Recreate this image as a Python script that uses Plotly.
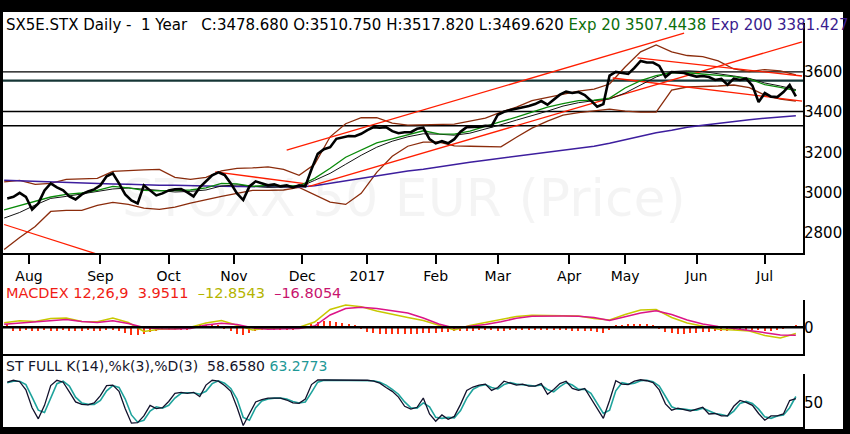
import pandas as pd
import plotly.graph_objects as go

# ---- session calendar: weekdays minus the exchange holidays in the window
HOLIDAYS = ["2016-12-26", "2017-04-14", "2017-04-17"]
sessions = pd.bdate_range("2016-07-20", "2017-07-19")
sessions = sessions[~sessions.isin(pd.to_datetime(HOLIDAYS))]
LAST_BAR = "2017-07-17"
bars = sessions[sessions <= LAST_BAR]
days_2 = bars[::-1][::2][::-1]   # every second session, ending on the last bar
days_5 = bars[::-1][::5][::-1]   # weekly samples for the smooth studies

MONTH_TICKS = ["2016-08-01", "2016-09-01", "2016-10-03", "2016-11-01", "2016-12-01",
               "2017-01-02", "2017-02-01", "2017-03-01", "2017-04-03", "2017-05-01",
               "2017-06-01", "2017-07-03"]
MONTH_LABELS = ["Aug", "Sep", "Oct", "Nov", "Dec", "2017", "Feb", "Mar", "Apr", "May", "Jun", "Jul"]
PRICE_TICKS = [2800, 3000, 3200, 3400, 3600]

# ---- price (close, every 2nd session)
close = [
    2970, 2978, 2998, 2978, 2915, 2945, 3010, 3045, 3025, 3010,
    2980, 2965, 2990, 3005, 3015, 3035, 3080, 3095, 3045, 2990,
    2960, 2945, 3035, 3010, 2985, 2995, 3010, 3015, 3017, 3000,
    2980, 3025, 3055, 3085, 3100, 3087, 3045, 2995, 2962, 3030,
    3055, 3045, 3035, 3040, 3030, 3035, 3025, 3035, 3030, 3115,
    3192, 3215, 3225, 3267, 3275, 3281, 3280, 3292, 3310, 3325,
    3322, 3325, 3305, 3295, 3300, 3300, 3317, 3322, 3265, 3245,
    3255, 3245, 3265, 3302, 3325, 3325, 3327, 3332, 3330, 3387,
    3402, 3410, 3417, 3422, 3430, 3440, 3455, 3437, 3462, 3487,
    3502, 3495, 3500, 3485, 3457, 3427, 3440, 3582, 3600, 3595,
    3590, 3620, 3655, 3647, 3647, 3630, 3575, 3600, 3597, 3595,
    3585, 3577, 3580, 3575, 3560, 3565, 3537, 3567, 3560, 3567,
    3532, 3450, 3495, 3477, 3475, 3500, 3535, 3478.68,
]

# ---- overlays (weekly samples)
ema20 = [
    2913, 2935, 2955, 2977, 2990, 2997, 3010, 3030, 3022, 3010,
    3008, 3010, 3012, 3022, 3045, 3042, 3030, 3035, 3035, 3032,
    3070, 3120, 3175, 3212, 3247, 3267, 3287, 3307, 3292, 3290,
    3305, 3330, 3352, 3375, 3400, 3425, 3442, 3457, 3460, 3470,
    3520, 3557, 3582, 3596, 3596, 3590, 3585, 3577, 3565, 3537,
    3523, 3507.44,
]
sma20 = [
    2872, 2900, 2937, 2970, 2980, 2992, 3005, 3017, 3022, 3017,
    3010, 3002, 3005, 3012, 3032, 3037, 3030, 3025, 3027, 3027,
    3060, 3095, 3140, 3185, 3225, 3255, 3277, 3292, 3290, 3285,
    3295, 3315, 3337, 3360, 3382, 3405, 3430, 3447, 3457, 3465,
    3495, 3537, 3575, 3602, 3606, 3602, 3592, 3580, 3568, 3545,
    3530, 3512,
]
ema200 = [
    3060, 3057, 3055, 3052, 3050, 3047, 3045, 3042, 3040, 3037,
    3035, 3035, 3035, 3032, 3030, 3030, 3028, 3027, 3027, 3027,
    3033, 3045, 3057, 3070, 3082, 3095, 3107, 3115, 3127, 3140,
    3150, 3160, 3170, 3180, 3190, 3200, 3210, 3220, 3230, 3245,
    3262, 3280, 3297, 3310, 3325, 3335, 3345, 3355, 3362, 3370,
    3375, 3381.43,
]
bb_upper = [
    3052, 3060, 3040, 3045, 3065, 3067, 3070, 3105, 3110, 3112,
    3115, 3075, 3065, 3075, 3107, 3120, 3122, 3127, 3115, 3085,
    3140, 3277, 3342, 3372, 3372, 3345, 3335, 3337, 3337, 3340,
    3355, 3370, 3400, 3425, 3457, 3472, 3490, 3505, 3515, 3540,
    3625, 3700, 3735, 3700, 3682, 3677, 3655, 3615, 3602, 3612,
    3605, 3585,
]
bb_lower = [
    2715, 2775, 2830, 2905, 2910, 2910, 2935, 2950, 2940, 2922,
    2915, 2927, 2947, 2965, 2980, 2995, 3010, 3010, 3012, 3025,
    2990, 2952, 2940, 2995, 3100, 3180, 3230, 3250, 3250, 3232,
    3230, 3227, 3227, 3275, 3320, 3355, 3385, 3397, 3407, 3415,
    3405, 3400, 3400, 3510, 3525, 3527, 3530, 3535, 3522, 3485,
    3465, 3455,
]

# ---- hand-drawn lines and support/resistance levels
trend_start_dates = ["2016-07-20", "2016-10-24", "2016-11-24", "2016-12-05", "2017-05-05", "2017-04-25"]
trend_start_vals = [2840, 3102, 3211, 3029, 3670, 3570]
trend_end_dates = ["2016-08-31", "2016-12-05", "2017-05-26", "2017-07-19", "2017-07-19", "2017-07-19"]
trend_end_vals = [2692, 3041, 3793, 3750, 3580, 3455]
levels = [3600, 3557, 3403, 3332]

# ---- MACD 12,26,9
macd = [
    9.7, 13.9, 12.2, 18.5, 19.5, 12.2, 11.8, 19.5, 10.0, -8.8,
    -4.2, -3.6, 0.0, 9.0, 14.3, 4.8, -5.7, -2.1, -0.8, 0.0,
    11.1, 37.4, 46.8, 43.0, 34.2, 26.9, 20.6, 14.3, 4.8, -5.7,
    3.8, 9.7, 16.4, 22.7, 25.2, 24.2, 23.7, 23.7, 18.5, 15.3,
    26.9, 36.3, 37.4, 20.6, 9.0, 2.1, -4.2, -5.7, -7.8, -17.2,
    -22.5, -12.8543,
]
macd_signal = [
    6.5, 9.0, 11.8, 14.7, 16.4, 12.2, 10.0, 13.9, 8.0, -0.4,
    -3.2, -3.6, -2.5, 4.8, 8.4, 5.9, -1.0, -4.2, -3.6, -2.7,
    2.7, 25.8, 39.5, 42.0, 39.5, 35.3, 30.0, 19.5, 6.9, -1.5,
    2.7, 5.9, 11.8, 18.9, 23.1, 23.7, 23.7, 23.3, 20.6, 14.3,
    22.3, 30.0, 34.9, 26.9, 15.3, 6.9, 1.7, -2.1, -6.7, -11.3,
    -16.2, -16.8054,
]
macd_hist = [
    8, -7, -7, -6, -8, -7, -6, -7, -7, -6,
    -7, -8, -7, -6, -7, -8, -6, -6, -8, -12,
    -16, -17, -15, -10, -7, -6, -6, -5, -5, -5,
    3, 4, 5, 5, 4, -4, -8, -13, -16, -12,
    -7, -5, -5, -5, -5, -5, -5, -4, 3, 8,
    12, 14, 14, 12, 10, 7, 4, -4, -9, -12,
    -13, -14, -14, -14, -14, -13, -13, -12, -12, -11,
    -10, -9, -8, -7, -7, -7, -6, -6, -6, -7,
    -7, -6, -6, -6, -6, -6, -6, -6, -6, -6,
    -6, -7, -7, -7, -8, -10, -12, -5, 4, 5,
    6, 6, 7, 6, 4, -4, -10, -12, -13, -13,
    -12, -11, -10, -9, -8, -7, -7, -6, -6, -6,
    -6, -6, -7, -7, -6, -4, 3, 3.9511,
]

# ---- full stochastic 14,3,3
stoch_k = [
    93, 97, 94, 77, 40, 17, 45, 86, 97, 93,
    73, 52, 47, 46, 50, 65, 86, 87, 74, 38,
    8, 9, 23, 45, 38, 40, 53, 70, 72, 70,
    72, 63, 87, 97, 95, 86, 74, 41, 3, 28,
    52, 57, 60, 60, 60, 56, 50, 49, 58, 88,
    97.5, 97.5, 97.5, 97, 97, 97, 97, 97, 97, 95,
    91, 82, 74, 62, 43, 37, 41, 60, 27, 12,
    25, 16, 22, 47, 76, 83, 87, 89, 76, 82,
    95, 91, 87, 89, 85, 85, 90, 68, 78, 90,
    95, 80, 76, 80, 60, 38, 18, 55, 96, 89,
    88, 95, 98, 96, 92, 77, 48, 35, 39, 36,
    33, 37, 41, 27, 28, 23, 23, 43, 55, 51,
    45, 28, 14, 23, 23, 27, 55, 58.658,
]
stoch_d = [
    92, 95, 95, 88, 62, 35, 30, 60, 90, 95,
    85, 62, 50, 47, 47, 55, 75, 86, 82, 58,
    25, 10, 14, 33, 42, 39, 45, 60, 70, 71,
    71, 68, 74, 90, 96, 91, 80, 58, 20, 14,
    40, 54, 58, 60, 60, 58, 53, 50, 52, 72,
    93, 97, 97, 97, 97, 97, 97, 97, 97, 96,
    93, 87, 78, 68, 52, 40, 39, 50, 42, 20,
    18, 20, 19, 34, 60, 78, 85, 88, 82, 79,
    88, 92, 89, 88, 87, 85, 87, 78, 73, 84,
    92, 87, 78, 78, 70, 48, 28, 35, 75, 92,
    89, 91, 96, 97, 94, 85, 62, 42, 37, 37,
    35, 35, 39, 34, 28, 26, 23, 33, 49, 53,
    49, 37, 21, 18, 23, 25, 40, 63.2773,
]


def pos(dates):
    """session number of each date (the x axis counts trading sessions)"""
    return list(sessions.get_indexer(pd.to_datetime(dates)))


x2 = pos(days_2)
x5 = pos(days_5)

# ---------------------------------------------------------------- figure
W, H = 850, 434
FONT = "DejaVu Sans"
X_DOMAIN = [3 / W, 803 / W]
X_RANGE = [-0.37, 257.3]


def py(p):
    """pixel row -> paper y"""
    return 1 - p / H


fig = go.Figure()


def line(x, y, color, width, axis="1"):
    xa = "x" if axis == "1" else "x" + axis
    ya = "y" if axis == "1" else "y" + axis
    fig.add_trace(go.Scatter(x=x, y=y, mode="lines", xaxis=xa, yaxis=ya,
                             line=dict(color=color, width=width), hoverinfo="skip"))


# main panel
line(x5, bb_upper, "#8b2c0c", 1.3)
line(x5, bb_lower, "#8b2c0c", 1.3)
line(x5, ema200, "#3d1e9e", 1.5)
for d0, v0, d1, v1 in zip(trend_start_dates, trend_start_vals, trend_end_dates, trend_end_vals):
    line(pos([d0, d1]), [v0, v1], "#ff1e00", 1.3)
line(x5, sma20, "#141414", 1.0)
line(x5, ema20, "#0a8a0a", 1.3)
line(x2, close, "#000000", 2.6)

for i, lv in enumerate(levels):
    fig.add_shape(type="line", xref="x domain", yref="y", x0=0, x1=1, y0=lv, y1=lv,
                  layer="below",
                  line=dict(color="#163636" if i == 1 else "#000000", width=2.2 if i == 1 else 1.3))

# MACD panel
fig.add_trace(go.Bar(x=x2, y=macd_hist, xaxis="x2", yaxis="y2",
                     marker=dict(color="#ff3010", line=dict(width=0)),
                     width=0.42, hoverinfo="skip"))
fig.add_shape(type="line", xref="x2 domain", yref="y2", x0=0, x1=1, y0=0, y1=0,
              line=dict(color="black", width=2.5))
line(x5, macd, "#c8c800", 1.5, "2")
line(x5, macd_signal, "#dc1488", 1.5, "2")

# stochastic panel
line(x2, stoch_d, "#1ea39c", 1.6, "3")
line(x2, stoch_k, "#12122c", 1.3, "3")

xbase = dict(range=X_RANGE, domain=X_DOMAIN, showgrid=False, zeroline=False,
             showline=True, linecolor="black", linewidth=2)
ybase = dict(side="right", showgrid=False, zeroline=False, showline=True, linecolor="black",
             linewidth=2, ticks="", ticklabelstandoff=-4,
             tickfont=dict(family=FONT, size=15, color="black"))

fig.update_layout(
    width=W, height=H, margin=dict(l=0, r=0, t=0, b=0),
    paper_bgcolor="white", plot_bgcolor="rgba(0,0,0,0)", showlegend=False, bargap=0,
    font=dict(family=FONT, color="black"),
    xaxis=dict(xbase, anchor="y", ticks="outside", ticklen=9, tickwidth=2, tickcolor="black",
               tickvals=pos(MONTH_TICKS), ticktext=MONTH_LABELS,
               tickfont=dict(family=FONT, size=14, color="black")),
    xaxis2=dict(xbase, anchor="y2", matches="x", showticklabels=False, ticks=""),
    xaxis3=dict(xbase, anchor="y3", matches="x", showticklabels=False, ticks=""),
    yaxis=dict(ybase, anchor="x", domain=[py(253), py(23)], range=[2698, 3844],
               tickvals=PRICE_TICKS),
    yaxis2=dict(ybase, anchor="x2", domain=[py(354), py(300)], range=[-56, 57.3],
                tickvals=[0]),
    yaxis3=dict(ybase, anchor="x3", domain=[py(427), py(374)], range=[0, 110],
                tickvals=[50]),
)

NB = "\u00a0"
header = (f"SX5E.STX Daily -{NB}{NB}1 Year{NB}{NB}{NB}C:3478.680 O:3510.750 H:3517.820 L:3469.620 "
          f"<span style='color:#0b6e0b'>Exp 20 3507.4438</span> "
          f"<span style='color:#3a1c8e'>Exp 200 3381.427</span>")
macd_label = (f"<span style='color:#f01c14'>MACDEX 12,26,9{NB}{NB}3.9511</span>{NB}{NB}"
              f"<span style='color:#b4b400'>\u201312.8543</span>{NB}{NB}"
              f"<span style='color:#c8146e'>\u201316.8054</span>")
stoch_label = (f"<span style='color:#15152a'>ST FULL K(14),%k(3),%D(3){NB}{NB}58.6580</span>{NB}"
               f"<span style='color:#1f9896'>63.2773</span>")

for text, row, size in [(header, 25, 15), (macd_label, 293, 14.5), (stoch_label, 366, 14)]:
    fig.add_annotation(text=text, xref="paper", yref="paper", x=4 / W, y=py(row),
                       xanchor="left", yanchor="middle", showarrow=False,
                       font=dict(family=FONT, size=size, color="black"))

# faint watermark: translucent so the studies still show through it
fig.add_annotation(text="STOXX 50 EUR (Price)", xref="paper", yref="paper", x=404 / W, y=py(198),
                   xanchor="center", yanchor="middle", showarrow=False,
                   font=dict(family=FONT, size=52, color="rgba(0,0,0,0.045)"))

# black frame round the picture
for x0, y0, x1, y1 in [(0, 0, W, 12), (0, 0, 3, H), (843, 0, W, H), (0, 429, W, H)]:
    fig.add_shape(type="rect", xref="paper", yref="paper", x0=x0 / W, x1=x1 / W,
                  y0=py(y1), y1=py(y0), fillcolor="black", line=dict(width=0), layer="above")

fig.write_html("out.html", config={"displayModeBar": False},
               post_script="document.body.style.margin='0';")
